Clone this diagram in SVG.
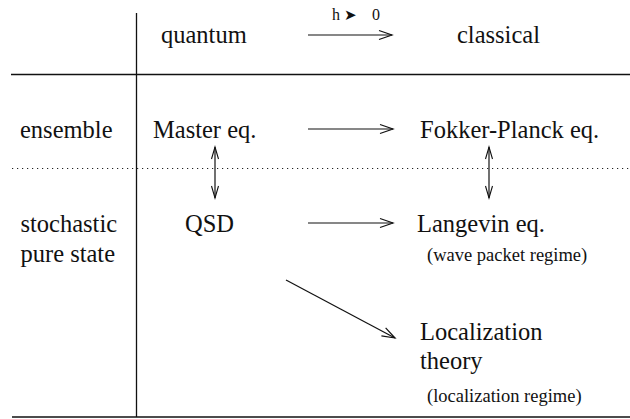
<svg xmlns="http://www.w3.org/2000/svg" width="630" height="419" viewBox="0 0 630 419">
<style>
text{font-family:'Liberation Serif','DejaVu Serif',serif;fill:#111}
.t{font-size:24.5px}
.s{font-size:18.5px}
.h{font-size:16px}
.rule{stroke:#111;stroke-width:1.3;fill:none}
.dot{stroke:#222;stroke-width:1.1;stroke-dasharray:1.2 3.8;fill:none}
.c{stroke:#111;stroke-width:1.2;fill:none}
.a{marker-end:url(#ah)}
.d{marker-start:url(#sh);marker-end:url(#sh)}
</style>
<defs>
<marker id="ah" markerUnits="userSpaceOnUse" viewBox="-15 -6 17 12" refX="0" refY="0" markerWidth="17" markerHeight="12" orient="auto">
<path d="M-13,-4.5 L0,0 L-13,4.5" fill="none" stroke="#111" stroke-width="1.2"/>
</marker>
<marker id="sh" markerUnits="userSpaceOnUse" viewBox="-14 -5 16 10" refX="0" refY="0" markerWidth="16" markerHeight="10" orient="auto-start-reverse">
<path d="M-12,-3.5 L0,0 L-12,3.5" fill="none" stroke="#111" stroke-width="1.1"/>
</marker>
</defs>
<rect width="630" height="419" fill="#fff"/>
<g id="table">
<line class="rule" x1="136.5" y1="13" x2="136.5" y2="417"/>
<line class="rule" x1="11" y1="74.5" x2="630" y2="74.5"/>
<line class="dot" x1="12" y1="168.5" x2="630" y2="168.5"/>
<line class="rule" x1="12" y1="417" x2="630" y2="417"/>
</g>
<g id="header-quantum"><text class="t" font-family="Liberation Serif, serif" x="161" y="43">quantum</text></g>
<g id="header-classical"><text class="t" font-family="Liberation Serif, serif" x="457" y="43">classical</text></g>
<g id="limit-label"><text class="h" font-family="Liberation Serif, serif" y="20"><tspan x="332">h</tspan><tspan x="344" font-family="DejaVu Sans, sans-serif" font-size="15">➤</tspan><tspan x="372">0</tspan></text></g>
<g id="row-ensemble"><text class="t" font-family="Liberation Serif, serif" x="20" y="138">ensemble</text></g>
<g id="row-stochastic"><text class="t" font-family="Liberation Serif, serif" x="20.5" y="232">stochastic</text><text class="t" font-family="Liberation Serif, serif" x="20.5" y="262">pure state</text></g>
<g id="master"><text class="t" font-family="Liberation Serif, serif" x="153" y="138">Master eq.</text></g>
<g id="fokker"><text class="t" font-family="Liberation Serif, serif" x="420" y="138">Fokker-Planck eq.</text></g>
<g id="qsd"><text class="t" font-family="Liberation Serif, serif" x="185" y="232">QSD</text></g>
<g id="langevin"><text class="t" font-family="Liberation Serif, serif" x="417" y="232">Langevin eq.</text><text class="s" font-family="Liberation Serif, serif" x="427" y="261">(wave packet regime)</text></g>
<g id="localization"><text class="t" font-family="Liberation Serif, serif" x="420" y="340">Localization</text><text class="t" font-family="Liberation Serif, serif" x="420" y="369">theory</text><text class="s" font-family="Liberation Serif, serif" x="427" y="402">(localization regime)</text></g>
<g id="connectors">
<line class="c a" x1="308" y1="35" x2="392" y2="35"/>
<line class="c a" x1="308" y1="129" x2="393" y2="129"/>
<line class="c a" x1="308" y1="223" x2="393" y2="223"/>
<line class="c d" x1="215" y1="147" x2="215" y2="198"/>
<line class="c d" x1="489" y1="147" x2="489" y2="198"/>
<line class="c a" x1="286" y1="280" x2="395" y2="338"/>
</g>
</svg>
